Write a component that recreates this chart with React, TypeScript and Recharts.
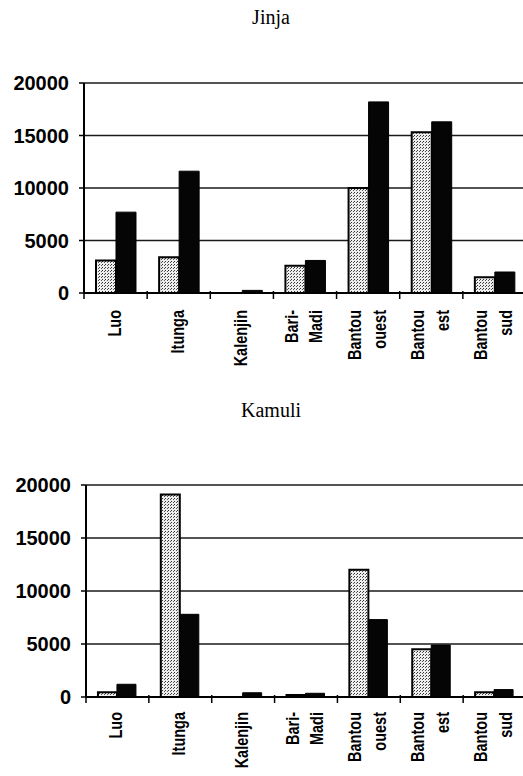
import React from "react";
import { BarChart, Bar, XAxis, YAxis, CartesianGrid } from "recharts";

const categories = ["Luo", "Itunga", "Kalenjin", "Bari-\nMadi", "Bantou\nouest", "Bantou\nest", "Bantou\nsud"];
const jinjaLight = [3100, 3400, 0, 2600, 10000, 15300, 1500];
const jinjaDark = [7700, 11600, 250, 3100, 18200, 16300, 2000];
const kamuliLight = [450, 19100, 0, 200, 12000, 4500, 450];
const kamuliDark = [1200, 7800, 400, 350, 7300, 4900, 700];
const yTicks = [0, 5000, 10000, 15000, 20000];

const jinjaData = categories.map((c, i) => ({ name: c, light: jinjaLight[i], dark: jinjaDark[i] }));
const kamuliData = categories.map((c, i) => ({ name: c, light: kamuliLight[i], dark: kamuliDark[i] }));

const CHART_W = 530;
const MARGIN_R = 4;
const STRETCH = 1.3;

function makeTick(band: number, labelOffset: number) {
  return (props: any) => {
    const { x, y, payload, index } = props;
    const lines = String(payload.value).split("\n");
    const n = lines.length;
    return (
      <g>
        <line x1={x - band / 2} x2={x - band / 2} y1={y - 2} y2={y + 6} stroke="#000" strokeWidth={1.5} />
        {index === categories.length - 1 ? (
          <line x1={x + band / 2} x2={x + band / 2} y1={y - 2} y2={y + 6} stroke="#000" strokeWidth={1.5} />
        ) : null}
        <g transform={`translate(${x},${y + labelOffset})`}>
          <text
            transform={`rotate(-90) scale(1,${STRETCH})`}
            textAnchor="end"
            fontFamily="'Liberation Sans', Arial, sans-serif"
            fontWeight="bold"
            fontSize={14.5}
            fill="#000"
          >
            {lines.map((l, i) => (
              <tspan key={i} x={0} y={((i - (n - 1) / 2) * 25 + 5) / STRETCH}>
                {l}
              </tspan>
            ))}
          </text>
        </g>
      </g>
    );
  };
}

function Panel(props: {
  data: any[];
  height: number;
  top: number;
  yWidth: number;
  xHeight: number;
  pid: string;
  labelOffset: number;
}) {
  const { data, height, top, yWidth, xHeight, pid, labelOffset } = props;
  const band = (CHART_W - MARGIN_R - yWidth) / categories.length;
  return (
    <BarChart
      width={CHART_W}
      height={height}
      data={data}
      margin={{ top, right: MARGIN_R, left: 0, bottom: 0 }}
      barCategoryGap="19%"
      barGap={0}
    >
      <defs>
        <pattern id={pid} width={3} height={3} patternUnits="userSpaceOnUse">
          <rect x={0} y={0} width={3} height={3} fill="#eeeeee" />
          <rect x={0} y={0} width={1} height={1} fill="#333" />
          <rect x={2} y={1} width={1} height={1} fill="#555" />
        </pattern>
      </defs>
      <CartesianGrid vertical={false} stroke="#000" strokeWidth={1.5} strokeOpacity={0.9} />
      <XAxis
        dataKey="name"
        height={xHeight}
        interval={0}
        tickSize={0}
        tickMargin={0}
        axisLine={{ stroke: "#000", strokeWidth: 2 }}
        tickLine={false}
        tick={makeTick(band, labelOffset)}
      />
      <YAxis
        width={yWidth}
        domain={[0, 20000]}
        ticks={yTicks}
        interval={0}
        tickSize={5}
        tickMargin={10}
        axisLine={{ stroke: "#000", strokeWidth: 2 }}
        tickLine={{ stroke: "#000", strokeWidth: 1.5 }}
        tick={{ fill: "#000", fontSize: 20, fontWeight: "bold", fontFamily: "'Liberation Sans', Arial, sans-serif" }}
      />
      <Bar dataKey="light" fill={`url(#${pid})`} stroke="#000" strokeWidth={2} isAnimationActive={false} />
      <Bar dataKey="dark" fill="#050505" stroke="#000" strokeWidth={1} isAnimationActive={false} />
    </BarChart>
  );
}

const titleStyle: React.CSSProperties = {
  position: "absolute",
  left: 0,
  width: 542,
  textAlign: "center",
  fontFamily: "'Liberation Serif', 'Times New Roman', serif",
  fontSize: 20,
  lineHeight: "20px",
  color: "#000",
};

export default function App() {
  return (
    <div
      style={{
        position: "absolute",
        left: 0,
        top: 0,
        width: 523,
        height: 776,
        overflow: "hidden",
        background: "#fff",
      }}
    >
      <div style={{ ...titleStyle, top: 7 }}>Jinja</div>
      <div style={{ ...titleStyle, top: 400 }}>Kamuli</div>
      <div style={{ position: "absolute", left: 0, top: 0 }}>
        <Panel data={jinjaData} height={390} top={83} yWidth={84} xHeight={97} pid="stipple1" labelOffset={17} />
      </div>
      <div style={{ position: "absolute", left: 0, top: 390 }}>
        <Panel data={kamuliData} height={386} top={95} yWidth={86} xHeight={79} pid="stipple2" labelOffset={15} />
      </div>
    </div>
  );
}
